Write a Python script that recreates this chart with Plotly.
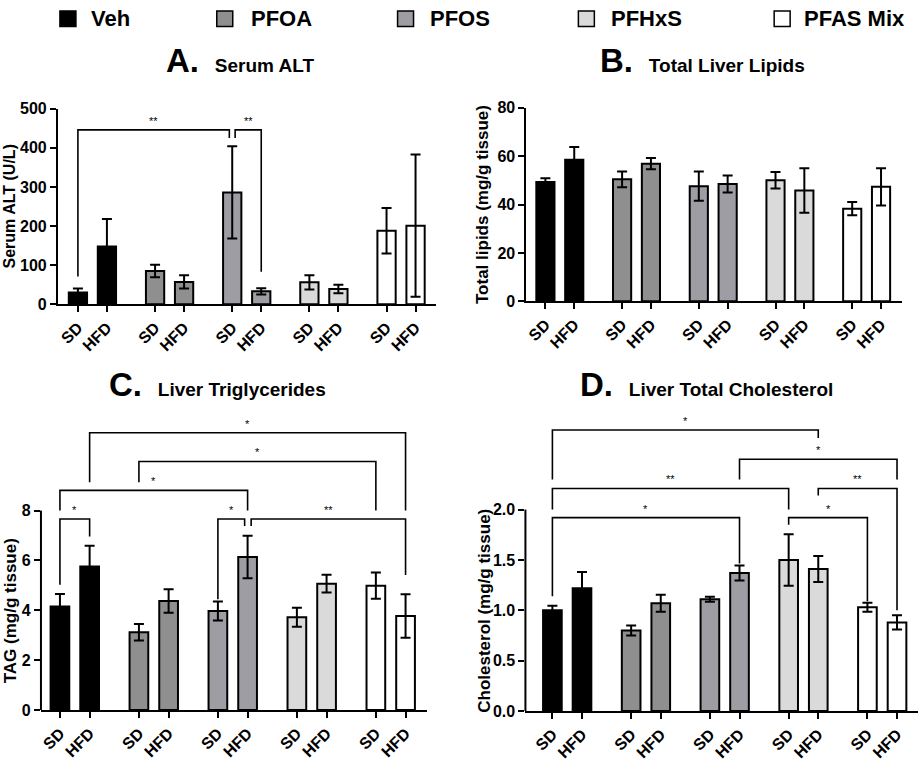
import plotly.graph_objects as go

# ---------------- data ----------------
groups = ["Veh", "PFOA", "PFOS", "PFHxS", "PFAS Mix"]
diets = ["SD", "HFD"]

alt_mean = [30, 148, 85, 57, 286, 33, 56, 39, 188, 201]
alt_err = [10, 70, 16, 17, 118, 8, 18, 11, 58, 182]

lipid_mean = [49.3, 58.5, 50.4, 56.9, 47.6, 48.5, 50.0, 45.8, 38.3, 47.3]
lipid_err = [1.6, 5.3, 3.3, 2.3, 6.0, 3.5, 3.4, 9.2, 2.7, 7.7]

tag_mean = [4.15, 5.76, 3.12, 4.37, 3.97, 6.14, 3.72, 5.07, 4.99, 3.77]
tag_err = [0.50, 0.83, 0.33, 0.47, 0.38, 0.85, 0.38, 0.36, 0.53, 0.87]

chol_mean = [1.00, 1.22, 0.80, 1.07, 1.11, 1.37, 1.50, 1.41, 1.03, 0.88]
chol_err = [0.045, 0.16, 0.05, 0.085, 0.025, 0.075, 0.255, 0.13, 0.045, 0.07]

# significance brackets: (bar i, bar j, bracket height, left leg end, right leg end, label)
alt_sig = [(0, 4, 446, 71, 425, "**"), (4, 5, 446, 425, 83, "**")]
tag_sig = [(0, 1, 7.66, 5.03, 6.96, "*"), (0, 5, 8.81, 8.0, 8.0, "*"),
           (2, 8, 9.97, 9.14, 8.0, "*"), (1, 9, 11.12, 9.14, 8.0, "*"),
           (4, 5, 7.66, 4.44, 7.38, "*"), (5, 9, 7.66, 7.38, 5.42, "**")]
chol_sig = [(0, 5, 1.92, 1.14, 1.465, "*"), (0, 6, 2.21, 2.0, 2.0, "**"),
            (6, 8, 1.92, 1.85, 1.09, "*"), (7, 9, 2.21, 2.14, 1.0, "**"),
            (5, 9, 2.50, 2.30, 2.30, "*"), (0, 7, 2.79, 2.30, 2.71, "*")]

# ---------------- style / layout ----------------
W, H = 918, 765
FONT = "Liberation Sans, Arial, Helvetica, sans-serif"
colors = ["#000000", "#8f8f8f", "#9d9da3", "#dadada", "#ffffff"]
GROUP_GAP = 2.66
xpos = [g * GROUP_GAP + i for g in range(len(groups)) for i in range(len(diets))]
XMAX = xpos[-1]
BAR_W = 0.63

# nudges (x, in bar units) for bracket ends sharing a bar
nudges = {
    "A": [(0, -0.1), (0.1, 0)],
    "C": [(0, 0), (0, 0), (0, 0), (0, 0), (0, -0.1), (0.12, 0)],
    "D": [(0, 0)] * 6,
}

panels = [
    dict(key="A", letter="A.", title="Serum ALT", ytitle="Serum ALT (U/L)",
         mean=alt_mean, err=alt_err, sig=alt_sig,
         L=57, R=435, P0=77, P9=415, y0px=303, ytoppx=103, ytopval=500, yrange=[0, 500],
         tickvals=[0, 100, 200, 300, 400, 500], fmt="d",
         tx=163, ty=54, ytx=9, ytfs=16),
    dict(key="B", letter="B.", title="Total Liver Lipids", ytitle="Total lipids (mg/g tissue)",
         mean=lipid_mean, err=lipid_err, sig=[],
         L=526, R=902, P0=545, P9=881, y0px=300, ytoppx=102, ytopval=80, yrange=[0, 80],
         tickvals=[0, 20, 40, 60, 80], fmt="d",
         tx=598, ty=54, ytx=482, ytfs=17),
    dict(key="C", letter="C.", title="Liver Triglycerides", ytitle="TAG (mg/g tissue)",
         mean=tag_mean, err=tag_err, sig=tag_sig,
         L=40, R=426, P0=59, P9=405, y0px=718, ytoppx=514, ytopval=8, yrange=[0, 12.2],
         tickvals=[0, 2, 4, 6, 8], fmt="d",
         tx=106, ty=385, ytx=9, ytfs=17),
    dict(key="D", letter="D.", title="Liver Total Cholesterol", ytitle="Cholesterol (mg/g tissue)",
         mean=chol_mean, err=chol_err, sig=chol_sig,
         L=525, R=918, P0=552, P9=897, y0px=719, ytoppx=513, ytopval=2.0, yrange=[0, 3.0],
         tickvals=[0, 0.5, 1.0, 1.5, 2.0], fmt=".1f",
         tx=578, ty=385, ytx=484, ytfs=17),
]

fig = go.Figure()
shapes = []
annotations = []

for k, p in enumerate(panels):
    n = "" if k == 0 else str(k + 1)
    xa, ya = "x" + n, "y" + n
    unit = (p["P9"] - p["P0"]) / XMAX
    xr = [-(p["P0"] - p["L"]) / unit, XMAX + (p["R"] - p["P9"]) / unit]
    pxu = (p["y0px"] - p["ytoppx"]) / p["ytopval"]
    top_px = p["y0px"] - p["yrange"][1] * pxu

    for g, grp in enumerate(groups):
        fig.add_trace(go.Bar(
            x=xpos[2 * g:2 * g + 2], y=p["mean"][2 * g:2 * g + 2],
            width=BAR_W, name=grp, showlegend=False,
            marker=dict(color=colors[g], line=dict(color="black", width=2)),
            error_y=dict(type="data", array=p["err"][2 * g:2 * g + 2],
                         color="black", thickness=2, width=5),
            xaxis=xa, yaxis=ya, hoverinfo="skip"))

    # brackets
    bx, by = [], []
    for s, (i, j, yb, lb, rb, lab) in enumerate(p["sig"]):
        lo, ro = nudges[p["key"]][s]
        x1, x2 = xpos[i] + lo, xpos[j] + ro
        bx += [x1, x1, x2, x2, None]
        by += [lb, yb, yb, rb, None]
        annotations.append(dict(x=(x1 + x2) / 2, y=yb, xref=xa, yref=ya, text=lab,
                                showarrow=False, yanchor="bottom", yshift=1,
                                font=dict(size=11, color="black", family=FONT)))
    if bx:
        fig.add_trace(go.Scatter(x=bx, y=by, mode="lines",
                                 line=dict(color="black", width=1.6),
                                 showlegend=False, hoverinfo="skip",
                                 xaxis=xa, yaxis=ya))

    extended = p["yrange"][1] > p["ytopval"]
    fig.layout["xaxis" + n] = dict(
        domain=[p["L"] / W, p["R"] / W], range=xr, anchor=ya,
        tickvals=xpos, ticktext=diets * len(groups), tickangle=-45,
        ticks="outside", ticklen=6, tickwidth=2, tickcolor="black",
        showline=True, linewidth=2, linecolor="black",
        showgrid=False, zeroline=False,
        tickfont=dict(size=16, family=FONT, color="black", weight="bold"))
    fig.layout["yaxis" + n] = dict(
        domain=[1 - p["y0px"] / H, 1 - top_px / H], range=p["yrange"], anchor=xa,
        tickvals=p["tickvals"], tickformat=p["fmt"],
        ticks="outside", ticklen=6, tickwidth=2, tickcolor="black",
        showline=not extended, linewidth=2, linecolor="black",
        showgrid=False, zeroline=False,
        tickfont=dict(size=16, family=FONT, color="black", weight="bold"))
    if extended:
        shapes.append(dict(type="line", xref="paper", yref=ya,
                           x0=p["L"] / W, x1=p["L"] / W, y0=0, y1=p["ytopval"],
                           line=dict(color="black", width=2)))

    # y-axis title, centred on the drawn part of the axis
    annotations.append(dict(
        x=p["ytx"] / W, y=p["ytopval"] / 2, xref="paper", yref=ya,
        xanchor="center", yanchor="middle", textangle=-90, showarrow=False,
        text=p["ytitle"], font=dict(size=p["ytfs"], family=FONT, color="black", weight="bold")))

    annotations.append(dict(
        x=p["tx"] / W, y=1 - p["ty"] / H, xref="paper", yref="paper",
        xanchor="left", yanchor="middle", showarrow=False,
        text=f"<span style='font-size:33px'>{p['letter']}</span>\u00a0\u00a0\u00a0{p['title']}",
        font=dict(size=19, family=FONT, color="black", weight="bold")))

# manual legend
leg_sq = [67, 224, 405, 586, 782]
leg_tx = [88, 248, 427, 609, 802]
LEG_Y = 11
for g, grp in enumerate(groups):
    shapes.append(dict(type="rect", xref="paper", yref="paper",
                       x0=(leg_sq[g] - 8) / W, x1=(leg_sq[g] + 8) / W,
                       y0=1 - (LEG_Y + 8) / H, y1=1 - (LEG_Y - 8) / H,
                       fillcolor=colors[g], line=dict(color="black", width=1.5)))
    annotations.append(dict(x=leg_tx[g] / W, y=1 - LEG_Y / H, xref="paper", yref="paper",
                            xanchor="left", yanchor="middle", showarrow=False, text=grp,
                            font=dict(size=22, family=FONT, color="black", weight="bold")))

fig.update_layout(
    width=W, height=H, margin=dict(l=0, r=0, t=0, b=0),
    paper_bgcolor="white", plot_bgcolor="white",
    barmode="overlay", showlegend=False,
    shapes=shapes, annotations=annotations,
    font=dict(family=FONT, color="black"))

fig.write_html("out.html", config={"displayModeBar": False},
               post_script="document.body.style.margin='0px';")
